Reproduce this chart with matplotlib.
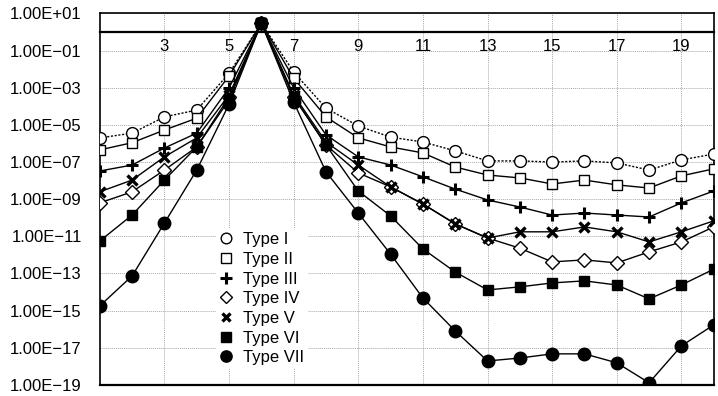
import matplotlib
matplotlib.use("Agg")
import matplotlib.pyplot as plt
from matplotlib.lines import Line2D
from matplotlib.ticker import FixedLocator, NullLocator, FuncFormatter

plt.rcParams['font.family'] = ['Liberation Sans', 'DejaVu Sans']

x = list(range(1, 21))

type_i = [2.0e-6, 3.6e-6, 2.7e-5, 6.3e-5, 6.0e-3, 3.0, 7.0e-3, 8.0e-5, 8.7e-6, 2.2e-6,
          1.2e-6, 4.0e-7, 1.15e-7, 1.15e-7, 1.0e-7, 1.15e-7, 9.0e-8, 3.7e-8, 1.3e-7, 2.7e-7]
type_ii = [4.5e-7, 1.1e-6, 5.3e-6, 2.3e-5, 4.3e-3, 3.0, 3.3e-3, 2.7e-5, 2.0e-6, 6.5e-7,
           3.1e-7, 5.4e-8, 2.0e-8, 1.4e-8, 6.6e-9, 1.07e-8, 5.9e-9, 4.0e-9, 1.8e-8, 4.3e-8]
type_iii = [3.3e-8, 6.9e-8, 5.7e-7, 3.6e-6, 9.8e-4, 3.0, 9.8e-4, 2.9e-6, 1.9e-7, 6.9e-8,
            1.6e-8, 3.5e-9, 9.1e-10, 3.8e-10, 1.4e-10, 1.8e-10, 1.4e-10, 1.1e-10, 6.3e-10, 2.75e-9]
type_iv = [6.3e-10, 2.5e-9, 3.7e-8, 6.5e-7, 3.2e-4, 3.0, 3.2e-4, 8.3e-7, 2.6e-8, 4.6e-9,
           5.5e-10, 4.7e-11, 8.1e-12, 2.3e-12, 4.2e-13, 5.4e-13, 3.7e-13, 1.45e-12, 5.0e-12, 3.2e-11]
type_v = [2.5e-9, 1.07e-8, 1.9e-7, 2.0e-6, 4.1e-4, 3.0, 4.1e-4, 1.2e-6, 6.9e-8, 4.6e-9,
          5.5e-10, 4.7e-11, 8.1e-12, 1.75e-11, 1.75e-11, 3.2e-11, 1.75e-11, 5.0e-12, 1.75e-11, 6.8e-11]
type_vi = [5.6e-12, 1.4e-10, 1.07e-8, 6.5e-7, 2.2e-4, 3.0, 3.2e-4, 8.3e-7, 2.75e-9, 1.26e-10,
           2.1e-12, 1.2e-13, 1.3e-14, 1.9e-14, 3.1e-14, 4.0e-14, 2.4e-14, 4.3e-15, 2.4e-14, 1.7e-13]
type_vii = [1.8e-15, 7.4e-14, 5.2e-11, 3.7e-8, 1.3e-4, 3.0, 1.7e-4, 3.0e-8, 1.8e-10, 1.1e-12,
            4.8e-15, 8.1e-17, 1.95e-18, 2.8e-18, 4.7e-18, 4.7e-18, 1.55e-18, 1.3e-19, 1.26e-17, 1.7e-16]

labels = ['Type I', 'Type II', 'Type III', 'Type IV', 'Type V', 'Type VI', 'Type VII']
series = [type_i, type_ii, type_iii, type_iv, type_v, type_vi, type_vii]

styles = [
    dict(marker='o', mfc='white', ms=8.5, ls=(0, (1.5, 1.2))),
    dict(marker='s', mfc='white', ms=7.5, ls='-'),
    dict(marker='+', mfc='black', ms=9, mew=2.2, ls='-'),
    dict(marker='D', mfc='white', ms=7, ls='-'),
    dict(marker='x', mfc='black', ms=7, mew=2.4, ls='-'),
    dict(marker='s', mfc='black', ms=7.5, ls='-'),
    dict(marker='o', mfc='black', ms=9, ls='-'),
]

yticks = [1e1, 1e-1, 1e-3, 1e-5, 1e-7, 1e-9, 1e-11, 1e-13, 1e-15, 1e-17, 1e-19]
xticks = [3, 5, 7, 9, 11, 13, 15, 17, 19]

fig = plt.figure(figsize=(7.18, 3.96), dpi=100)
ax = fig.add_axes([0.139, 0.028, 0.855, 0.938])

for ys, lab, st in zip(series, labels, styles):
    ax.plot(x, ys, color='black', lw=1.0, marker=st['marker'], mfc=st['mfc'], mec='black',
            ms=st['ms'], mew=st.get('mew', 1.0), ls=st['ls'], zorder=3)

ax.set_yscale('log')
ax.set_ylim(1e-19, 1e1)
ax.set_xlim(1, 20)

ax.yaxis.set_major_locator(FixedLocator(yticks))
ax.yaxis.set_minor_locator(NullLocator())
ax.xaxis.set_major_locator(FixedLocator(xticks))
ax.xaxis.set_minor_locator(NullLocator())


def efmt(v, pos):
    s = "%.2E" % v
    mant, exp = s.split('E')
    sign = '+' if exp[0] == '+' else '\u2212'
    return "%sE%s%s" % (mant, sign, exp[1:])


ax.yaxis.set_major_formatter(FuncFormatter(efmt))
ax.tick_params(axis='y', length=0, pad=13, labelsize=12)
ax.tick_params(axis='x', length=0, pad=5, labelsize=12)

ax.grid(True, which='major', color='#aaaaaa', lw=0.7, ls=(0, (1, 1)))
ax.set_axisbelow(True)

# x axis crosses at y = 1
ax.spines['bottom'].set_position(('data', 1))
ax.spines['bottom'].set_linewidth(1.6)
for s in ['top', 'left', 'right']:
    ax.spines[s].set_linewidth(1.2)
ax.plot([0, 1], [0, 0], transform=ax.transAxes, color='black', lw=1.6, clip_on=False, zorder=4)

handles = [Line2D([], [], color='black', ls='none', marker=st['marker'], mfc=st['mfc'], mec='black',
                  ms=st['ms'] * 0.9, mew=st.get('mew', 1.0)) for st in styles]
leg = ax.legend(handles, labels, loc='upper left', bbox_to_anchor=(0.19, 0.42), frameon=True,
                fontsize=12, handlelength=0.8, handletextpad=0.6, labelspacing=0.28,
                borderpad=0.2, borderaxespad=0)
leg.get_frame().set_edgecolor('none')
leg.get_frame().set_facecolor('white')
leg.get_frame().set_alpha(1)

fig.savefig('out.png', dpi=100)
